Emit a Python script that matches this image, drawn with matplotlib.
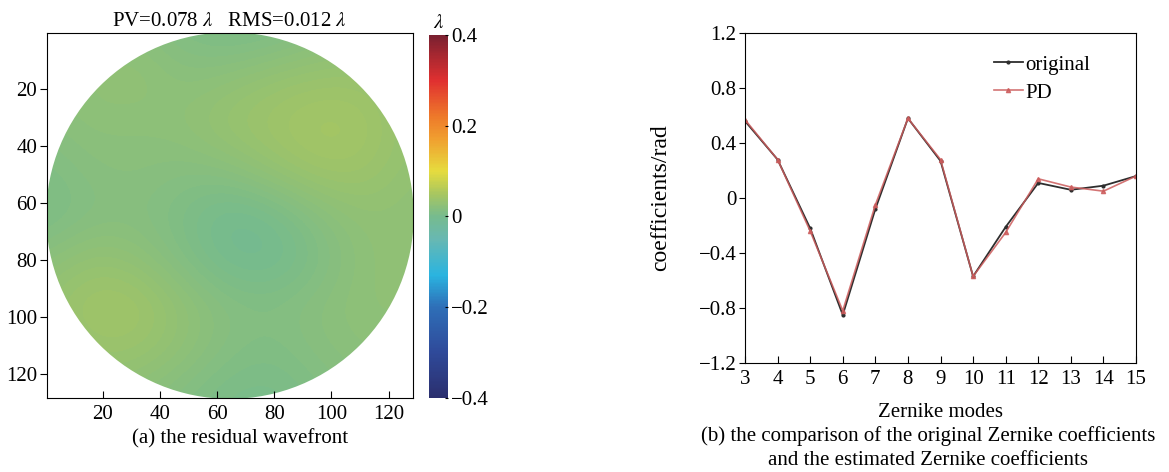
import matplotlib
matplotlib.use("Agg")
import matplotlib.pyplot as plt
import numpy as np
from matplotlib.colors import LinearSegmentedColormap
from matplotlib.patches import Circle

plt.rcParams['font.family'] = ['Liberation Serif', 'DejaVu Serif']
plt.rcParams['mathtext.fontset'] = 'stix'
FS = 15

# residual wavefront, coarse samples (units of lambda)
# rows: y = 0,16,...,128 ; cols: x = 0,16,...,128
wave_nodes = [0, 16, 32, 48, 64, 80, 96, 112, 128]
residual = np.array([
    [0.020, 0.020, 0.020, 0.010, 0.004, 0.006, 0.015, 0.020, 0.020],
    [0.020, 0.027, 0.030, 0.020, 0.024, 0.032, 0.036, 0.036, 0.025],
    [0.018, 0.024, 0.022, 0.026, 0.036, 0.042, 0.048, 0.045, 0.030],
    [0.010, 0.018, 0.020, 0.016, 0.020, 0.032, 0.042, 0.040, 0.028],
    [0.005, 0.014, 0.016, 0.008, -0.004, 0.002, 0.018, 0.028, 0.025],
    [0.020, 0.032, 0.026, 0.012, -0.002, -0.004, 0.010, 0.025, 0.028],
    [0.032, 0.044, 0.044, 0.028, 0.016, 0.014, 0.020, 0.026, 0.026],
    [0.025, 0.036, 0.036, 0.026, 0.014, 0.010, 0.018, 0.022, 0.022],
    [0.020, 0.025, 0.020, 0.012, 0.004, 0.003, 0.010, 0.018, 0.020],
])

# zernike coefficients
modes = [3, 4, 5, 6, 7, 8, 9, 10, 11, 12, 13, 14, 15]
original = [0.56, 0.28, -0.22, -0.85, -0.08, 0.58, 0.27, -0.57, -0.21, 0.11, 0.06, 0.09, 0.16]
pd_est = [0.57, 0.28, -0.24, -0.82, -0.05, 0.58, 0.28, -0.57, -0.25, 0.14, 0.08, 0.05, 0.16]

# colormap that looks like the one in the figure
cm_pts = [(-0.40, '#2b2f6e'), (-0.30, '#2f4a9a'), (-0.20, '#2e6fb8'),
          (-0.13, '#2ab4e0'), (-0.05, '#68b8b2'), (0.00, '#76bb8e'),
          (0.05, '#a8c660'), (0.10, '#e6dc3e'), (0.17, '#f0a030'),
          (0.22, '#ee7a2a'), (0.30, '#e03030'), (0.40, '#7a2030')]
cmap = LinearSegmentedColormap.from_list(
    'wf', [((v + 0.4) / 0.8, c) for v, c in cm_pts])

fig = plt.figure(figsize=(11.69, 4.72), dpi=100)

# ---- (a) residual wavefront
ax1 = fig.add_axes([0.0402, 0.1568, 0.313, 0.773])
step = wave_nodes[1] - wave_nodes[0]
im = ax1.imshow(residual, cmap=cmap, vmin=-0.4, vmax=0.4,
                interpolation='bicubic',
                extent=(wave_nodes[0] - step / 2, wave_nodes[-1] + step / 2,
                        wave_nodes[-1] + step / 2, wave_nodes[0] - step / 2))
clip = Circle((64.5, 64.5), 64.3, transform=ax1.transData)
im.set_clip_path(clip)
ax1.set_xlim(0.5, 128.5)
ax1.set_ylim(128.5, 0.5)
ax1.set_aspect('auto')
ax1.set_xticks([20, 40, 60, 80, 100, 120])
ax1.set_yticks([20, 40, 60, 80, 100, 120])
ax1.tick_params(axis='x', direction='in', length=5, labelsize=FS, pad=5)
ax1.tick_params(axis='y', direction='out', length=5, labelsize=FS, pad=2)
ax1.set_title('PV=0.078 $\\lambda$   RMS=0.012 $\\lambda$', fontsize=FS, pad=5)
fig.text(0.205, 0.06, '(a) the residual wavefront', ha='center', fontsize=FS)

cax = fig.add_axes([0.367, 0.157, 0.0163, 0.769])
cb = fig.colorbar(im, cax=cax, ticks=[-0.4, -0.2, 0, 0.2, 0.4])
cb.ax.set_yticklabels(['\u22120.4', '\u22120.2', '0', '0.2', '0.4'])
cb.ax.tick_params(length=2, direction='in', labelsize=FS, pad=2)
cb.outline.set_visible(False)
cax.set_title('$\\lambda$', fontsize=FS, pad=5)

# ---- (b) coefficient comparison
ax2 = fig.add_axes([0.6373, 0.2309, 0.3345, 0.699])
ax2.plot(modes, original, color='#2e2e2e', lw=1.3, marker='.', ms=4, label='original')
ax2.plot(modes, pd_est, color='#cc5c5c', lw=1.2, marker='^', ms=3, label='PD', alpha=0.85)
ax2.set_xlim(3, 15)
ax2.set_ylim(-1.2, 1.2)
ax2.set_xticks(modes)
ax2.set_yticks([-1.2, -0.8, -0.4, 0, 0.4, 0.8, 1.2])
ax2.set_yticklabels(['\u22121.2', '\u22120.8', '\u22120.4', '0', '0.4', '0.8', '1.2'])
ax2.tick_params(axis='x', direction='in', length=5, labelsize=FS, pad=5)
ax2.tick_params(axis='y', direction='out', length=4, labelsize=FS, pad=2)
ax2.set_xlabel('Zernike modes', fontsize=FS, labelpad=10)
ax2.set_ylabel('coefficients/rad', fontsize=17, labelpad=20)
ax2.legend(loc='upper right', bbox_to_anchor=(0.93, 0.99), frameon=False,
           fontsize=FS, handlelength=1.4, handletextpad=0.1, labelspacing=0.4)
fig.text(0.794, 0.065, '(b) the comparison of the original Zernike coefficients',
         ha='center', fontsize=FS)
fig.text(0.794, 0.015, 'and the estimated Zernike coefficients',
         ha='center', fontsize=FS)

fig.savefig('out.png', dpi=100)
